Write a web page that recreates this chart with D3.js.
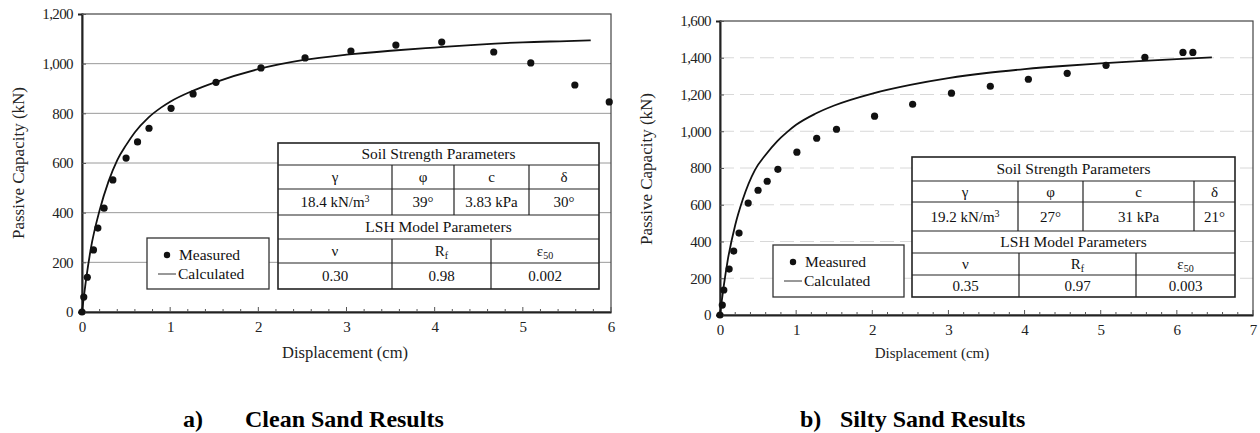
<!DOCTYPE html>
<html>
<head>
<meta charset="utf-8">
<script src="https://cdn.jsdelivr.net/npm/d3@7.9.0/dist/d3.min.js"></script>
<style>
  body { margin: 0; background: #fff; }
  svg text { font-family: "Liberation Serif", "Times New Roman", Times, "DejaVu Serif", serif; }
</style>
</head>
<body>
<svg id="chart" width="1260" height="433"></svg>
<script>
// ---- data ----
// a) clean sand
const cleanMeasured = [
  [0, 0], [0.02, 60], [0.06, 140], [0.13, 250], [0.18, 338], [0.25, 418],
  [0.35, 532], [0.5, 620], [0.63, 685], [0.76, 740], [1.01, 820], [1.26, 878],
  [1.52, 925], [2.03, 983], [2.53, 1023], [3.05, 1051], [3.56, 1075],
  [4.08, 1087], [4.67, 1047], [5.09, 1003], [5.59, 914], [5.98, 846]
];
const cleanCalculated = [
  [0, 0], [0.05, 140], [0.1, 255], [0.2, 410], [0.3, 525], [0.4, 612],
  [0.5, 672], [0.6, 724], [0.75, 782], [0.9, 824], [1.0, 847], [1.25, 890],
  [1.5, 924], [2.0, 978], [2.5, 1014], [3.0, 1036], [3.5, 1052], [4.0, 1065],
  [4.5, 1077], [5.0, 1086], [5.5, 1091], [5.77, 1094]
];
const cleanSoilHead = ["γ", "φ", "c", "δ"];
const cleanSoilVals = ["18.4 kN/m|3", "39°", "3.83 kPa", "30°"];
const cleanLshVals = ["0.30", "0.98", "0.002"];

// b) silty sand
const siltyMeasured = [
  [0, 0], [0.03, 54], [0.05, 136], [0.12, 250], [0.18, 348], [0.25, 446],
  [0.37, 609], [0.5, 679], [0.62, 728], [0.76, 793], [1.01, 886], [1.27, 962],
  [1.53, 1011], [2.03, 1082], [2.53, 1147], [3.04, 1207], [3.55, 1245],
  [4.05, 1283], [4.56, 1315], [5.07, 1359], [5.58, 1402], [6.08, 1429], [6.21, 1429]
];
const siltyCalculated = [
  [0, 0], [0.05, 160], [0.1, 295], [0.2, 490], [0.3, 630], [0.46, 790],
  [0.6, 872], [0.75, 945], [0.88, 995], [1.0, 1035], [1.25, 1095], [1.5, 1140],
  [2.0, 1205], [2.5, 1252], [3.0, 1289], [3.5, 1317], [4.0, 1338], [4.5, 1355],
  [5.0, 1369], [5.5, 1382], [6.0, 1393], [6.46, 1402]
];
const siltySoilHead = ["γ", "φ", "c", "δ"];
const siltySoilVals = ["19.2 kN/m|3", "27°", "31 kPa", "21°"];
const siltyLshVals = ["0.35", "0.97", "0.003"];

const lshHead = ["ν", "R|f", "ε|50"];

const panels = [
  {
    measured: cleanMeasured, calculated: cleanCalculated,
    xMax: 6, yMax: 1200, yStep: 200,
    x0: 82, x1: 611, y0: 312, y1: 14,
    grid: "solid", caption: ["a)", "Clean Sand Results"], capX: 183, capGap: 62,
    xTitle: { x: 345, y: 358, size: 16.5 }, yTitle: { x: 24, y: 163, size: 17 },
    legend: { x: 147, y: 238, w: 122, h: 51 },
    table: {
      x0: 278, x1: 599, rows: [143, 165, 189, 215, 239, 263, 289],
      topCols: [392, 454, 529], botCols: [392, 491],
      head: cleanSoilHead, vals: cleanSoilVals, lsh: cleanLshVals
    }
  },
  {
    measured: siltyMeasured, calculated: siltyCalculated,
    xMax: 7, yMax: 1600, yStep: 200,
    x0: 720, x1: 1253, y0: 315, y1: 21,
    grid: "dash", caption: ["b)", "Silty Sand Results"], capX: 800, capGap: 40,
    xTitle: { x: 932, y: 358, size: 15 }, yTitle: { x: 652, y: 169, size: 17 },
    legend: { x: 773, y: 245, w: 131, h: 52 },
    table: {
      x0: 912, x1: 1235, rows: [157, 181, 202, 231, 253, 275, 297],
      topCols: [1018, 1083, 1194], botCols: [1019, 1136],
      head: siltySoilHead, vals: siltySoilVals, lsh: siltyLshVals
    }
  }
];

const svg = d3.select("#chart");

// text with optional "|" sub/superscript part
function richText(g, x, y, str, sup, size) {
  const parts = str.split("|");
  const t = g.append("text").attr("x", x).attr("y", y)
    .attr("text-anchor", "middle").style("font-size", size + "px").attr("fill", "#111");
  t.append("tspan").text(parts[0]);
  if (parts[1]) {
    t.append("tspan").attr("dy", sup ? -5 : 3).style("font-size", (size - 5) + "px").text(parts[1]);
  }
  return t;
}

panels.forEach(p => {
  const g = svg.append("g");
  const x = d3.scaleLinear().domain([0, p.xMax]).range([p.x0, p.x1]);
  const y = d3.scaleLinear().domain([0, p.yMax]).range([p.y0, p.y1]);

  // gridlines
  const yTicks = d3.range(0, p.yMax + 1, p.yStep);
  g.append("g").selectAll("line").data(yTicks.slice(1, -1)).join("line")
    .attr("x1", p.x0).attr("x2", p.x1)
    .attr("y1", d => y(d)).attr("y2", d => y(d))
    .attr("stroke", p.grid === "solid" ? "#9a9a9a" : "#d8d8d8")
    .attr("stroke-width", 1)
    .attr("stroke-dasharray", p.grid === "solid" ? null : "14,6");

  // frame
  g.append("rect").attr("x", p.x0).attr("y", p.y1)
    .attr("width", p.x1 - p.x0).attr("height", p.y0 - p.y1)
    .attr("fill", "none").attr("stroke", "#444").attr("stroke-width", 1.2);

  // axes
  const xAxis = d3.axisBottom(x).ticks(p.xMax).tickSize(0).tickPadding(9).tickFormat(d3.format("d"));
  const gx = g.append("g").attr("transform", `translate(0,${p.y0})`).call(xAxis)
    .attr("font-family", null);
  gx.select(".domain").attr("stroke", "#222").attr("stroke-width", 2);
  gx.selectAll("text").style("font-size", "15px").attr("fill", "#222");
  // minor ticks along the x axis
  g.append("g").selectAll("line").data(d3.range(0, p.xMax * 5 + 1).map(i => i / 5)).join("line")
    .attr("x1", d => x(d)).attr("x2", d => x(d))
    .attr("y1", p.y0).attr("y2", d => (Math.abs(d - Math.round(d)) < 1e-6 ? p.y0 - 5 : p.y0 - 3))
    .attr("stroke", "#555").attr("stroke-width", 1);

  const yAxis = d3.axisLeft(y).tickValues(yTicks).tickSize(4).tickPadding(5).tickFormat(d3.format(","));
  const gy = g.append("g").attr("transform", `translate(${p.x0},0)`).call(yAxis)
    .attr("font-family", null);
  gy.select(".domain").attr("stroke", "#222").attr("stroke-width", 2);
  gy.selectAll(".tick line").attr("stroke", "#555").attr("x2", 4).attr("x1", 0);
  gy.selectAll("text").style("font-size", "15px").attr("fill", "#222")
    .attr("letter-spacing", "-0.6");

  // axis titles
  g.append("text").attr("x", p.xTitle.x).attr("y", p.xTitle.y)
    .attr("text-anchor", "middle").style("font-size", p.xTitle.size + "px").attr("fill", "#222")
    .text("Displacement (cm)");
  g.append("text")
    .attr("transform", `translate(${p.yTitle.x},${p.yTitle.y}) rotate(-90)`)
    .attr("text-anchor", "middle").style("font-size", p.yTitle.size + "px").attr("fill", "#222")
    .text("Passive Capacity (kN)");

  // calculated curve
  g.append("path").datum(p.calculated)
    .attr("fill", "none").attr("stroke", "#111").attr("stroke-width", 1.8)
    .attr("d", d3.line().x(d => x(d[0])).y(d => y(d[1])).curve(d3.curveMonotoneX));

  // measured points
  g.append("g").selectAll("circle").data(p.measured).join("circle")
    .attr("cx", d => x(d[0])).attr("cy", d => y(d[1])).attr("r", 3.6)
    .attr("fill", "#111");

  // legend
  const L = p.legend;
  const lg = g.append("g").attr("transform", `translate(${L.x},${L.y})`);
  lg.append("rect").attr("width", L.w).attr("height", L.h)
    .attr("fill", "#fff").attr("stroke", "#333").attr("stroke-width", 1.3);
  lg.append("circle").attr("cx", 20).attr("cy", 17).attr("r", 3.2).attr("fill", "#111");
  lg.append("text").attr("x", 32).attr("y", 22).style("font-size", "15.5px").attr("fill", "#111").text("Measured");
  lg.append("line").attr("x1", 11).attr("x2", 29).attr("y1", 36).attr("y2", 36)
    .attr("stroke", "#333").attr("stroke-width", 1);
  lg.append("text").attr("x", 31).attr("y", 41).style("font-size", "15.5px").attr("fill", "#111").text("Calculated");

  // parameter table
  const T = p.table, R = T.rows;
  const tg = g.append("g");
  tg.append("rect").attr("x", T.x0).attr("y", R[0])
    .attr("width", T.x1 - T.x0).attr("height", R[6] - R[0])
    .attr("fill", "#fff").attr("stroke", "#222").attr("stroke-width", 1.6);
  tg.selectAll("line.row").data(R.slice(1, 6)).join("line").attr("class", "row")
    .attr("x1", T.x0).attr("x2", T.x1).attr("y1", d => d).attr("y2", d => d)
    .attr("stroke", "#222").attr("stroke-width", 1.2);
  T.topCols.forEach(c => tg.append("line").attr("x1", c).attr("x2", c)
    .attr("y1", R[1]).attr("y2", R[3]).attr("stroke", "#222").attr("stroke-width", 1.2));
  T.botCols.forEach(c => tg.append("line").attr("x1", c).attr("x2", c)
    .attr("y1", R[4]).attr("y2", R[6]).attr("stroke", "#222").attr("stroke-width", 1.2));

  const mid = (a, b) => (a + b) / 2;
  const topEdges = [T.x0, ...T.topCols, T.x1];
  const botEdges = [T.x0, ...T.botCols, T.x1];
  const fs = 15;
  richText(tg, mid(T.x0, T.x1), mid(R[0], R[1]) + 5, "Soil Strength Parameters", false, 15.5);
  T.head.forEach((h, i) => richText(tg, mid(topEdges[i], topEdges[i + 1]), mid(R[1], R[2]) + 5, h, false, fs));
  T.vals.forEach((v, i) => richText(tg, mid(topEdges[i], topEdges[i + 1]), mid(R[2], R[3]) + 5, v, true, fs));
  richText(tg, mid(T.x0, T.x1), mid(R[3], R[4]) + 5, "LSH Model Parameters", false, 15.5);
  lshHead.forEach((h, i) => richText(tg, mid(botEdges[i], botEdges[i + 1]), mid(R[4], R[5]) + 4.5, h, false, fs));
  T.lsh.forEach((v, i) => richText(tg, mid(botEdges[i], botEdges[i + 1]), mid(R[5], R[6]) + 5, v, false, fs));

  // caption
  const cap = svg.append("text").attr("x", p.capX).attr("y", 427)
    .style("font-size", "24px").style("font-weight", "bold").attr("fill", "#000");
  cap.append("tspan").text(p.caption[0]);
  cap.append("tspan").attr("x", p.capX + p.capGap).text(p.caption[1]);
});
</script>
</body>
</html>
